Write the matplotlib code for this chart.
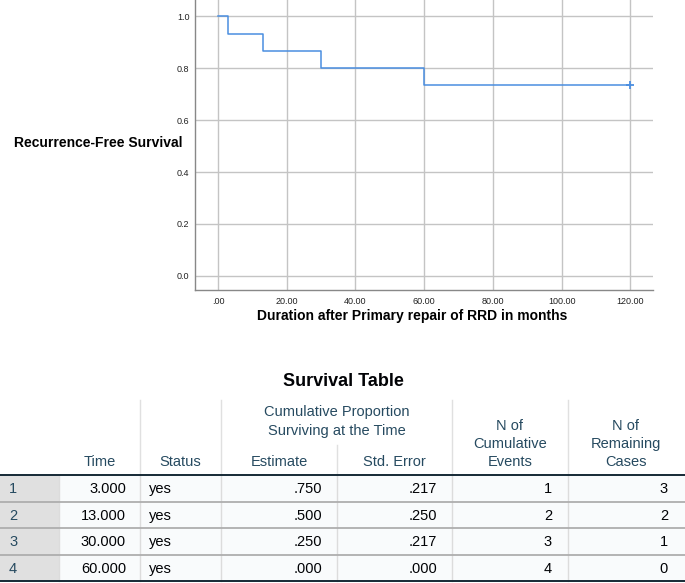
import matplotlib
matplotlib.use("Agg")
import matplotlib.pyplot as plt

plt.rcParams['font.family'] = ['Liberation Sans', 'DejaVu Sans']

# ---- Kaplan-Meier curve data ----
km_times = [0, 3, 13, 30, 60, 120]
km_surv = [1.0, 0.933, 0.867, 0.800, 0.733, 0.733]
censor_times = [120]
censor_surv = [0.733]

x_ticks = [0, 20, 40, 60, 80, 100, 120]
x_ticklabels = ['.00', '20.00', '40.00', '60.00', '80.00', '100.00', '120.00']
y_ticks = [0.0, 0.2, 0.4, 0.6, 0.8, 1.0]
y_ticklabels = ['0.0', '0.2', '0.4', '0.6', '0.8', '1.0']

# ---- Survival table data ----
row_ids = ['1', '2', '3', '4']
tbl_time = ['3.000', '13.000', '30.000', '60.000']
tbl_status = ['yes', 'yes', 'yes', 'yes']
tbl_estimate = ['.750', '.500', '.250', '.000']
tbl_stderr = ['.217', '.250', '.217', '.000']
tbl_events = ['1', '2', '3', '4']
tbl_remaining = ['3', '2', '1', '0']

W, H = 685, 583
fig = plt.figure(figsize=(W / 100, H / 100), dpi=100)

# ---------------- Chart ----------------
ax = fig.add_axes([195 / W, 1 - 290 / H, (653 - 195) / W, 290 / H])
ax.step(km_times, km_surv, where='post', color='#4a8ee0', lw=1.1, zorder=3)
ax.plot(censor_times, censor_surv, marker='+', color='#4a8ee0', ms=6, mew=1.3,
        ls='none', zorder=4)
ax.set_xlim(-6.7, 126.6)
ax.set_ylim(-0.054, 1.062)
ax.set_xticks(x_ticks)
ax.set_xticklabels(x_ticklabels)
ax.set_yticks(y_ticks)
ax.set_yticklabels(y_ticklabels)
ax.tick_params(length=0, labelsize=6.5, labelcolor='#222222')
ax.tick_params(axis='x', pad=5)
ax.tick_params(axis='y', pad=4)
ax.grid(True, color='#c4c4c4', lw=1.0)
ax.set_axisbelow(True)
for s in ['top', 'right']:
    ax.spines[s].set_visible(False)
for s in ['left', 'bottom']:
    ax.spines[s].set_color('#888888')
    ax.spines[s].set_linewidth(1.0)
ax.set_xlabel('Duration after Primary repair of RRD in months', fontsize=10,
              fontweight='bold')
ax.xaxis.set_label_coords((412 - 195) / 458, -(309 - 290) / 290)
fig.text(183 / W, 1 - 143 / H, 'Recurrence-Free Survival', fontsize=10,
         fontweight='bold', ha='right', va='center')

# ---------------- Table ----------------
tx = fig.add_axes([0, 0, 1, 1])
tx.set_xlim(0, W)
tx.set_ylim(H, 0)
tx.axis('off')

hdr_col = '#264a60'
txt_col = '#010205'

tx.text(343, 381, 'Survival Table', fontsize=13, fontweight='bold',
        ha='center', va='center', color='#010205')

col_edges = [0, 59, 140, 221, 337, 452, 568, 685]
top_line = 475
row_h = 26.5
n = len(row_ids)

# backgrounds
for i in range(n):
    y0 = top_line + i * row_h
    tx.add_patch(plt.Rectangle((0, y0), 59, row_h, color='#e0e0e0', lw=0, zorder=1))
    tx.add_patch(plt.Rectangle((59, y0), W - 59, row_h, color='#f9fbfc', lw=0, zorder=1))

# header vertical separators
for x in [140, 221, 452, 568]:
    tx.plot([x, x], [400, top_line], color='#e0e0e0', lw=1.0, zorder=2)
tx.plot([337, 337], [445, top_line], color='#e0e0e0', lw=1.0, zorder=2)

# body vertical separators
for x in col_edges[1:-1]:
    tx.plot([x, x], [top_line, top_line + n * row_h], color='#dcdcdc', lw=1.0, zorder=2)

# horizontal lines
for i in range(1, n):
    y = top_line + i * row_h
    tx.plot([0, W], [y, y], color='#aeaeae', lw=1.3, zorder=3)
tx.plot([0, W], [top_line, top_line], color='#152935', lw=1.4, zorder=4)
tx.plot([0, W], [top_line + n * row_h, top_line + n * row_h], color='#152935', lw=1.4, zorder=4)

fs = 10.5
# header texts
hy = 462
tx.text(99.5, hy, 'Time', ha='center', va='center', fontsize=fs, color=hdr_col)
tx.text(180.5, hy, 'Status', ha='center', va='center', fontsize=fs, color=hdr_col)
tx.text(279, hy, 'Estimate', ha='center', va='center', fontsize=fs, color=hdr_col)
tx.text(394.5, hy, 'Std. Error', ha='center', va='center', fontsize=fs, color=hdr_col)
tx.text(337, 412, 'Cumulative Proportion', ha='center', va='center', fontsize=fs, color=hdr_col)
tx.text(337, 431, 'Surviving at the Time', ha='center', va='center', fontsize=fs, color=hdr_col)
for j, t in enumerate(['N of', 'Cumulative', 'Events']):
    tx.text(510, 426 + j * 18, t, ha='center', va='center', fontsize=fs, color=hdr_col)
for j, t in enumerate(['N of', 'Remaining', 'Cases']):
    tx.text(626, 426 + j * 18, t, ha='center', va='center', fontsize=fs, color=hdr_col)

# body texts
for i in range(n):
    yc = top_line + (i + 0.5) * row_h + 1
    tx.text(9, yc, row_ids[i], ha='left', va='center', fontsize=fs, color=hdr_col, zorder=5)
    tx.text(126, yc, tbl_time[i], ha='right', va='center', fontsize=fs, color=txt_col, zorder=5)
    tx.text(149, yc, tbl_status[i], ha='left', va='center', fontsize=fs, color=txt_col, zorder=5)
    tx.text(322, yc, tbl_estimate[i], ha='right', va='center', fontsize=fs, color=txt_col, zorder=5)
    tx.text(437, yc, tbl_stderr[i], ha='right', va='center', fontsize=fs, color=txt_col, zorder=5)
    tx.text(552, yc, tbl_events[i], ha='right', va='center', fontsize=fs, color=txt_col, zorder=5)
    tx.text(668, yc, tbl_remaining[i], ha='right', va='center', fontsize=fs, color=txt_col, zorder=5)

fig.savefig('out.png', dpi=100)
